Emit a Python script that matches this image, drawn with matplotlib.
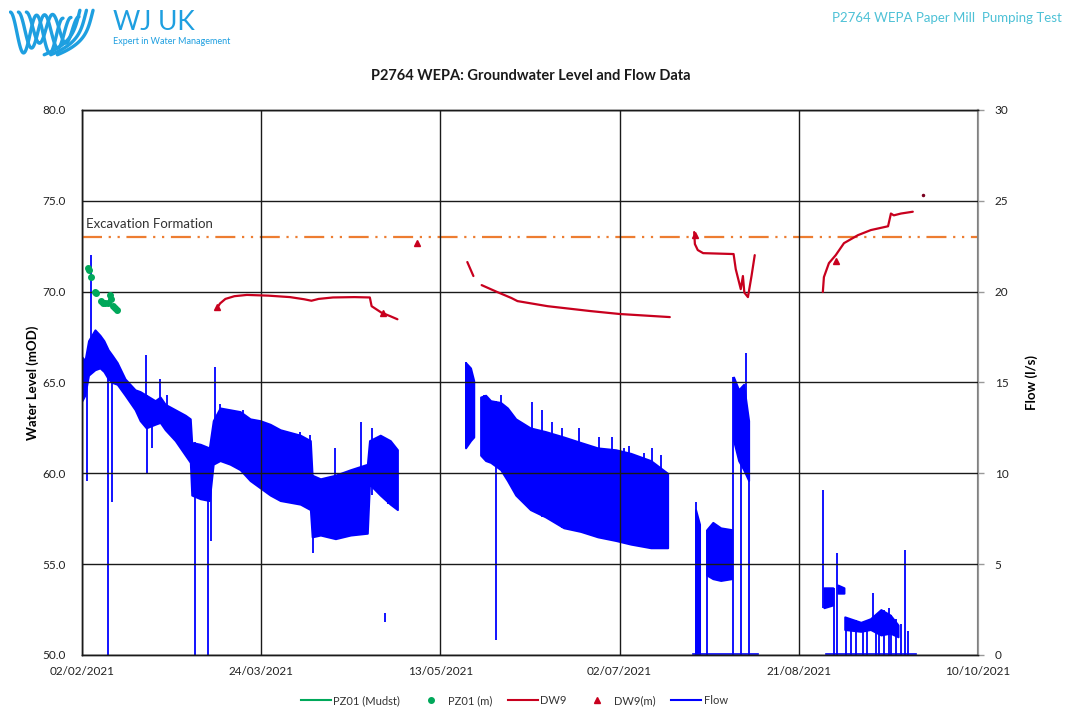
import datetime as dt
import numpy as np
import matplotlib
matplotlib.use("Agg")
import matplotlib.pyplot as plt
from matplotlib.lines import Line2D

# ---------------- data (days since 02/02/2021) ----------------
START = dt.datetime(2021, 2, 2)

x_tick_labels = ["02/02/2021", "24/03/2021", "13/05/2021", "02/07/2021", "21/08/2021", "10/10/2021"]
x_tick_days = [0, 50, 100, 150, 200, 250]
level_ticks = [50.0, 55.0, 60.0, 65.0, 70.0, 75.0, 80.0]
flow_ticks = [0, 5, 10, 15, 20, 25, 30]

excavation_level = 73.0

# Flow envelopes (day, upper, lower)
flowA_days = [0.0, 0.8, 1.8, 3.6, 5.0, 6.1, 7.3, 8.4, 9.8, 12.0, 14.8, 16.2, 17.9, 20.4, 21.8, 23.2,
              26.0, 28.8, 30.2, 30.6, 33.0, 35.5, 36.6, 38.5, 41.3, 44.1, 46.9, 49.7, 52.5, 55.3,
              60.9, 63.7, 64.2, 66.5, 70.7, 74.9, 79.6, 80.2, 83.2, 86.0, 88.0]
flowA_hi = [16.4, 16.2, 17.3, 17.9, 17.6, 17.3, 16.8, 16.5, 16.1, 15.2, 14.6, 14.5, 14.3, 14.0, 14.2, 13.8,
            13.5, 13.2, 13.0, 11.7, 11.6, 11.4, 12.9, 13.6, 13.5, 13.4, 13.0, 12.9, 12.7, 12.4,
            12.1, 11.8, 9.9, 9.7, 9.9, 10.2, 10.5, 11.8, 12.1, 11.8, 11.3]
flowA_lo = [14.0, 14.3, 15.4, 15.7, 15.8, 15.6, 15.2, 15.0, 14.9, 14.3, 13.5, 12.9, 12.5, 12.7, 12.8, 12.4,
            11.8, 11.0, 10.6, 8.8, 8.6, 8.5, 10.5, 10.7, 10.5, 10.2, 9.6, 9.2, 8.8, 8.5,
            8.3, 8.0, 6.5, 6.6, 6.4, 6.6, 6.7, 9.4, 8.8, 8.3, 8.0]

flowB1_days = [107.0, 108.4, 109.3]
flowB1_hi = [16.1, 15.8, 15.1]
flowB1_lo = [11.4, 11.8, 12.0]

flowB2_days = [111.2, 112.6, 114.0, 116.8, 118.7, 121.0, 125.1, 129.3, 134.4, 139.1, 143.9, 148.9,
               153.1, 158.7, 163.4]
flowB2_hi = [14.2, 14.3, 14.0, 13.9, 13.6, 13.0, 12.5, 12.3, 12.0, 11.7, 11.4, 11.3, 11.1, 10.7, 10.0]
flowB2_lo = [11.0, 10.7, 10.6, 10.2, 9.6, 8.8, 8.0, 7.6, 7.0, 6.8, 6.5, 6.3, 6.1, 5.9, 5.9]

flowC1_days = [171.2, 172.3]
flowC1_hi = [8.0, 7.2]
flowC1_lo = [0.0, 0.0]

flowC2_days = [174.3, 176.0, 178.2, 181.3]
flowC2_hi = [6.9, 7.3, 7.0, 6.9]
flowC2_lo = [4.4, 4.2, 4.1, 4.2]

flowC3_days = [181.8, 183.2, 184.6, 186.0]
flowC3_hi = [15.3, 14.6, 14.9, 12.9]
flowC3_lo = [11.8, 10.7, 10.2, 9.6]

flowD1_days = [207.0, 209.5]
flowD1_hi = [3.7, 3.7]
flowD1_lo = [2.6, 2.75]

flowD2_days = [210.9, 212.6]
flowD2_hi = [3.85, 3.7]
flowD2_lo = [3.4, 3.4]

flowD3_days = [212.8, 217.3, 220.0, 222.9, 225.5, 227.7]
flowD3_hi = [2.1, 1.8, 2.0, 2.5, 2.2, 1.65]
flowD3_lo = [1.4, 1.3, 1.4, 1.1, 1.2, 1.0]

# zero-flow baselines (start day, end day)
flow_zero_start = [170.4, 207.5]
flow_zero_end = [188.5, 232.7]

# individual spikes / dips (day, from, to)
spike_days = [1.4, 2.5, 7.3, 8.4, 15.0, 17.9, 18.2, 19.6, 21.8, 23.7, 31.6, 35.2, 36.0, 37.1, 38.5,
              45.0, 50.3, 60.9, 63.7, 64.5, 70.7, 77.7, 81.0, 85.5, 84.6,
              107.0, 112.1, 115.4, 116.8, 125.6, 128.4, 131.2, 134.0, 138.6, 144.2, 148.0, 151.2,
              152.6, 156.8, 159.1, 161.5,
              171.2, 174.3, 181.6, 183.8, 185.2, 186.0,
              206.7, 209.8, 210.6, 213.1, 214.5, 215.9, 217.9, 219.0, 220.7, 221.5, 222.3,
              223.7, 225.1, 225.7, 227.1, 228.5, 229.6, 230.4]
spike_lo = [9.6, 16.0, 0.0, 8.4, 13.5, 12.5, 10.0, 11.4, 12.8, 12.4, 0.0, 0.0, 6.3, 12.0, 10.7,
            10.2, 9.2, 8.3, 8.0, 5.6, 6.4, 6.7, 8.8, 8.3, 1.8,
            11.4, 10.8, 0.8, 10.2, 8.0, 7.6, 7.4, 7.0, 6.8, 6.5, 6.3, 6.2,
            6.1, 6.0, 5.9, 5.9,
            0.0, 0.0, 0.0, 0.0, 10.2, 0.0,
            2.6, 0.0, 0.0, 0.0, 0.0, 0.0, 0.0, 0.0, 1.4, 0.0, 0.0,
            0.0, 0.0, 0.0, 0.0, 0.0, 0.0, 0.0]
spike_hi = [16.2, 22.0, 16.8, 16.5, 14.6, 16.5, 14.3, 14.0, 15.2, 14.3, 11.7, 11.4, 11.4, 15.85, 13.8,
            13.5, 12.9, 12.3, 12.1, 9.9, 11.4, 12.8, 12.5, 11.9, 2.3,
            16.1, 14.3, 14.0, 14.3, 13.9, 13.5, 12.8, 12.5, 12.5, 12.0, 12.0, 11.4,
            11.5, 11.1, 11.4, 11.0,
            8.4, 6.9, 15.3, 14.6, 16.6, 12.9,
            9.1, 3.7, 5.6, 2.1, 2.0, 1.9, 1.8, 1.8, 3.4, 2.0, 2.3,
            2.5, 2.6, 2.2, 2.0, 1.7, 5.8, 1.3]

# DW9 water level (mOD)
dw9_1_days = [37.7, 38.5, 40.0, 42.5, 46.0, 52.0, 58.0, 62.0, 64.0, 66.0, 70.0, 76.0, 80.3, 80.8, 83.5, 86.0, 88.0]
dw9_1_lvl = [69.10, 69.35, 69.60, 69.75, 69.82, 69.78, 69.70, 69.58, 69.50, 69.60, 69.68, 69.70, 69.68,
             69.20, 68.85, 68.65, 68.48]
dw9_2_days = [107.5, 109.2]
dw9_2_lvl = [71.63, 70.86]
dw9_3_days = [111.5, 115.6, 119.8, 121.5, 129.9, 141.9, 150.0, 164.0]
dw9_3_lvl = [70.36, 70.00, 69.65, 69.48, 69.20, 68.93, 68.77, 68.60]
dw9_4_days = [170.8, 171.0, 171.8, 173.3, 181.8, 182.4, 183.8, 184.4, 184.8, 185.8, 186.8, 187.7]
dw9_4_lvl = [73.28, 72.62, 72.29, 72.12, 72.07, 71.24, 70.14, 70.86, 69.95, 69.70, 70.86, 72.01]
dw9_5_days = [206.7, 207.0, 208.4, 210.3, 212.6, 216.5, 220.1, 224.9, 225.7, 226.5, 228.5, 231.8]
dw9_5_lvl = [69.98, 70.80, 71.57, 72.01, 72.67, 73.11, 73.39, 73.60, 74.30, 74.20, 74.30, 74.40]
dw9_dot_days = [234.6]
dw9_dot_lvl = [75.3]

# DW9 manual dips
dw9m_days = [37.7, 84.0, 93.6, 170.9, 210.3]
dw9m_lvl = [69.15, 68.80, 72.70, 73.10, 71.70]

# PZ01 manual dips
pz01m_days = [1.7, 1.8, 2.5, 3.6, 3.9, 5.3, 5.9, 6.4, 7.3, 7.8, 8.1, 8.7, 9.2, 9.8]
pz01m_lvl = [71.3, 71.2, 70.8, 70.0, 69.9, 69.5, 69.4, 69.35, 69.4, 69.8, 69.6, 69.2, 69.1, 69.0]


def D(days):
    return [START + dt.timedelta(days=float(d)) for d in days]


# ---------------- figure ----------------
plt.rcParams['font.family'] = ['Lato', 'DejaVu Sans']
BLUE = '#0000FF'
RED = '#C8001E'
GREEN = '#00A85A'
ORANGE = '#ED7D31'

fig = plt.figure(figsize=(10.67, 7.11), dpi=100)
ax = fig.add_axes([0.0769, 0.0788, 0.8397, 0.7665])
ax2 = ax.twinx()

# flow on secondary axis
for dd, hi, lo in [(flowA_days, flowA_hi, flowA_lo), (flowB1_days, flowB1_hi, flowB1_lo),
                   (flowB2_days, flowB2_hi, flowB2_lo), (flowC1_days, flowC1_hi, flowC1_lo),
                   (flowC2_days, flowC2_hi, flowC2_lo), (flowC3_days, flowC3_hi, flowC3_lo),
                   (flowD1_days, flowD1_hi, flowD1_lo), (flowD2_days, flowD2_hi, flowD2_lo),
                   (flowD3_days, flowD3_hi, flowD3_lo)]:
    ax2.fill_between(D(dd), lo, hi, color=BLUE, linewidth=1.4, edgecolor=BLUE)
for s, e in zip(flow_zero_start, flow_zero_end):
    ax2.plot(D([s, e]), [0.05, 0.05], color=BLUE, lw=1.2)
ax2.vlines(D(spike_days), spike_lo, spike_hi, color=BLUE, lw=1.3)

ax2.set_ylim(0, 30)
ax2.set_yticks(flow_ticks)
ax2.set_yticklabels([str(t) for t in flow_ticks])
ax2.tick_params(axis='y', direction='out', length=4, width=1, color='#999999',
                labelsize=8.5, labelcolor='#222222', pad=8)
ax2.set_ylabel('Flow (l/s)', fontsize=9.5, fontweight='bold', labelpad=12)

# level data on primary axis, drawn above flow
ax.set_zorder(ax2.get_zorder() + 1)
ax.patch.set_visible(False)

ax.axhline(excavation_level, color=ORANGE, lw=1.6, dashes=(9, 3, 1, 3, 1, 3), zorder=2)
ax.text(D([1])[0], excavation_level + 0.4, 'Excavation Formation', fontsize=9.5,
        color='#333333', va='bottom', ha='left')

for dd, lv in [(dw9_1_days, dw9_1_lvl), (dw9_2_days, dw9_2_lvl), (dw9_3_days, dw9_3_lvl),
               (dw9_4_days, dw9_4_lvl), (dw9_5_days, dw9_5_lvl)]:
    ax.plot(D(dd), lv, color=RED, lw=1.6, solid_capstyle='round', zorder=4)
ax.plot(D(dw9_dot_days), dw9_dot_lvl, 'o', color='#7A0020', ms=1.5, zorder=4)
ax.plot(D(dw9m_days), dw9m_lvl, '^', color=RED, ms=5, lw=0, zorder=5)
ax.plot(D(pz01m_days), pz01m_lvl, 'o', color=GREEN, ms=4, lw=0, zorder=5)

ax.set_xlim(START, START + dt.timedelta(days=250))
ax.set_ylim(50, 80)
ax.set_yticks(level_ticks)
ax.set_yticklabels([f'{t:.1f}' for t in level_ticks])
ax.set_xticks(D(x_tick_days))
ax.set_xticklabels(x_tick_labels)
ax.tick_params(axis='both', length=0, labelsize=8.5, labelcolor='#222222')
ax.tick_params(axis='x', pad=8)
ax.tick_params(axis='y', pad=12)
ax.grid(True, color='#1a1a1a', lw=1.0)
ax.set_axisbelow(False)
ax.set_ylabel('Water Level (mOD)', fontsize=9.5, fontweight='bold', labelpad=2)

for a in (ax, ax2):
    for sp in ('left', 'bottom', 'top'):
        a.spines[sp].set_color('#1a1a1a')
        a.spines[sp].set_linewidth(1.0)
    a.spines['right'].set_color('#999999')
    a.spines['right'].set_linewidth(1.5)

fig.text(0.497, 0.893, 'P2764 WEPA: Groundwater Level and Flow Data', ha='center', va='center',
         fontsize=10.5, fontweight='bold', color='#1a1a1a')

# legend
handles = [Line2D([], [], color=GREEN, lw=1.5),
           Line2D([], [], color=GREEN, marker='o', lw=0, ms=4),
           Line2D([], [], color=RED, lw=1.5),
           Line2D([], [], color=RED, marker='^', lw=0, ms=5),
           Line2D([], [], color=BLUE, lw=1.5)]
labels = ['PZ01 (Mudst)', 'PZ01 (m)', 'DW9', 'DW9(m)', 'Flow']
fig.legend(handles, labels, loc='center', bbox_to_anchor=(0.482, 0.015), ncol=5, frameon=False,
           fontsize=8, handlelength=2.7, columnspacing=1.4, handletextpad=0.2,
           labelcolor='#333333')

# header: logo + texts
LOGO = '#1E9FE0'
lax = fig.add_axes([0.008, 0.918, 0.088, 0.075])
lax.set_xlim(0, 10)
lax.set_ylim(0, 6)
lax.axis('off')
u = np.linspace(0, 1, 80)
for k in range(3):
    o = k * 0.85
    xs = 0.2 + o + u * 5.6
    ys = 0.6 + k * 0.55 + (5.2 - 0.6 - k * 0.55) * np.cos(np.pi * u * 2) ** 2 * (1 - 0.15 * u)
    ys = np.where(u > 0.75, np.minimum(ys, 5.3), ys)
    lax.plot(xs, ys, color=LOGO, lw=2.4, solid_capstyle='round')
    v = np.linspace(0, 1, 40)
    jx = 9.0 + k * 0.5 - 1.2 * v - 2.6 * v ** 4
    jy = 5.4 - 5.0 * v
    lax.plot(jx - k * 1.2, jy, color=LOGO, lw=2.4, solid_capstyle='round')

fig.text(0.106, 0.986, 'WJ UK', fontsize=19, color=LOGO, va='top', ha='left')
fig.text(0.106, 0.941, 'Expert in Water Management', fontsize=6.5, color=LOGO, va='center', ha='left')
fig.text(0.995, 0.974, 'P2764 WEPA Paper Mill  Pumping Test', fontsize=9.5, color='#4DC1D6',
         va='center', ha='right')

fig.savefig('out.png', dpi=100)
